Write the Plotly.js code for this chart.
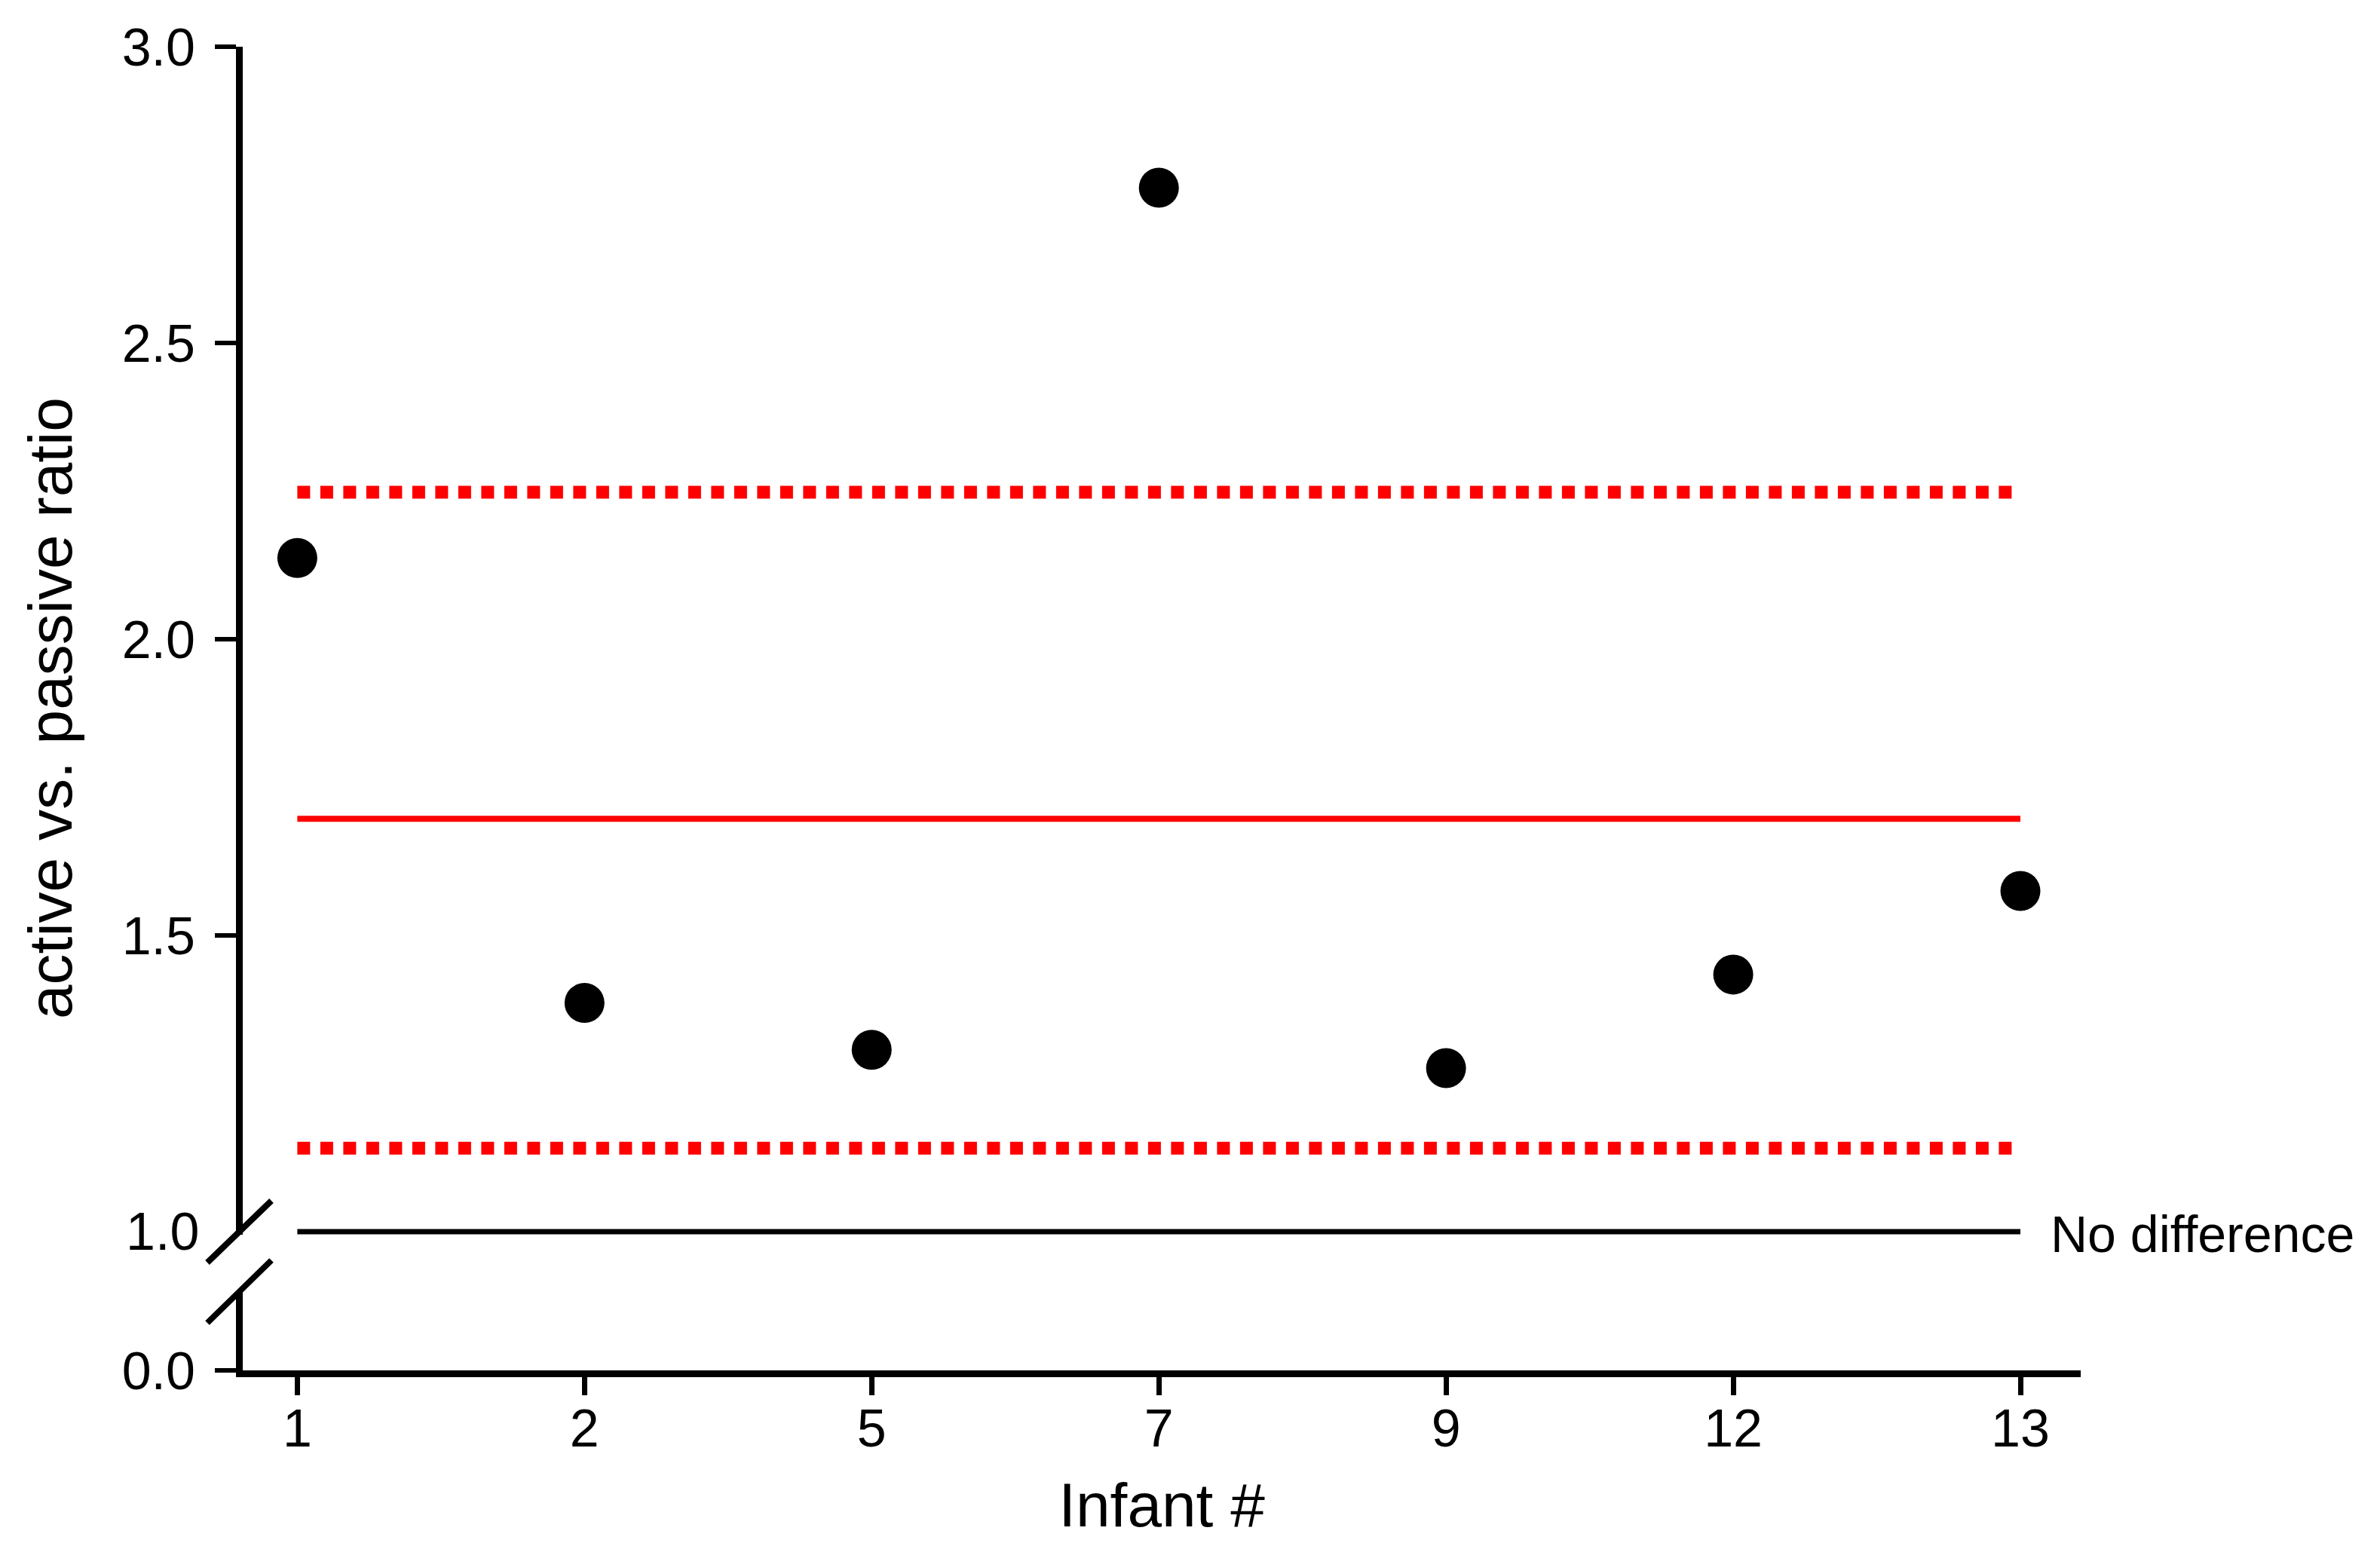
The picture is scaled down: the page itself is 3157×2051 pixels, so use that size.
<!DOCTYPE html>
<html>
<head>
<meta charset="utf-8">
<script src="https://cdn.plot.ly/plotly-3.0.1.min.js"></script>
<style>
  html, body { margin: 0; padding: 0; background: #ffffff; }
  #chart { width: 3157px; height: 2051px; }
</style>
</head>
<body>
<div id="chart"></div>
<script>
// ---- Data ----
const infants = ["1", "2", "5", "7", "9", "12", "13"];
const ratios = [2.137, 1.386, 1.307, 2.762, 1.276, 1.434, 1.575];
const meanRatio = 1.697;
const upperBound = 2.248;
const lowerBound = 1.141;
const noDifference = 1.0;
const upperTickVals = [1.5, 2.0, 2.5, 3.0];
const lowerTickVals = [0];
const lowerTickText = ["0.0"];

// ---- Layout constants ----
const W = 3157, H = 2051;
const M = { l: 322, r: 397, t: 62, b: 233 };
const plotW = W - M.l - M.r;
const plotH = H - M.t - M.b;
const px2paperX = p => (p - M.l) / plotW;
const px2paperY = p => (H - M.b - p) / plotH;

const FONT = "Liberation Sans, Arial, Helvetica, sans-serif";
const firstCat = infants[0];
const lastCat = infants[infants.length - 1];
const lastIndex = infants.length - 1;
const ends = [firstCat, lastCat];

const traces = [
  { x: infants, y: ratios, xaxis: "x", yaxis: "y", mode: "markers",
    marker: { color: "#000000", size: 53, symbol: "circle", line: { width: 0 } },
    cliponaxis: false },
  { x: ends, y: [upperBound, upperBound], xaxis: "x", yaxis: "y", mode: "lines",
    line: { color: "#ff0000", width: 17, dash: "17px,13.5px" }, hoverinfo: "skip" },
  { x: ends, y: [lowerBound, lowerBound], xaxis: "x", yaxis: "y", mode: "lines",
    line: { color: "#ff0000", width: 17, dash: "17px,13.5px" }, hoverinfo: "skip" },
  { x: ends, y: [meanRatio, meanRatio], xaxis: "x", yaxis: "y", mode: "lines",
    line: { color: "#ff0000", width: 8 }, hoverinfo: "skip" },
  { x: ends, y: [noDifference, noDifference], xaxis: "x", yaxis: "y", mode: "lines",
    line: { color: "#000000", width: 7 }, hoverinfo: "skip" },
  // empty trace that makes the lower (broken) axis segment exist
  { x: [], y: [], xaxis: "x", yaxis: "y2", mode: "markers", hoverinfo: "skip" }
];

// upper segment: 3.0 at 62px, 786 px per unit; starts a hair below 1.0
const upperRange = [0.995, 3.0];
const upperBottom = px2paperY(62 + (3.0 - upperRange[0]) * 786);
const lowerTop = px2paperY(1713);

const layout = {
  width: W, height: H,
  margin: M,
  paper_bgcolor: "#ffffff",
  plot_bgcolor: "#ffffff",
  showlegend: false,
  font: { family: FONT, color: "#000000", size: 70 },
  xaxis: {
    type: "category",
    categoryorder: "array",
    categoryarray: infants,
    range: [-0.19, 6.21],
    showgrid: false, zeroline: false,
    showline: true, linecolor: "#000000", linewidth: 9,
    ticks: "outside", ticklen: 24, tickwidth: 7, tickcolor: "#000000",
    tickfont: { family: FONT, size: 70, color: "#000000" },
    ticklabelstandoff: -16,
    anchor: "y2",
    title: { text: "Infant #", font: { family: FONT, size: 82, color: "#000000" }, standoff: 38 }
  },
  yaxis: {
    domain: [upperBottom, 1],
    range: upperRange,
    anchor: "x",
    showgrid: false, zeroline: false,
    showline: true, linecolor: "#000000", linewidth: 9,
    ticks: "outside", ticklen: 28, tickwidth: 6, tickcolor: "#000000",
    tickvals: upperTickVals, tickformat: ".1f",
    tickfont: { family: FONT, size: 70, color: "#000000" },
    ticklabelstandoff: 12
  },
  yaxis2: {
    domain: [0, lowerTop],
    range: [0, 0.13],
    anchor: "x",
    showgrid: false, zeroline: false,
    showline: true, linecolor: "#000000", linewidth: 9,
    ticks: "outside", ticklen: 28, tickwidth: 6, tickcolor: "#000000",
    tickvals: lowerTickVals, ticktext: lowerTickText,
    tickfont: { family: FONT, size: 70, color: "#000000" },
    ticklabelstandoff: 12
  },
  shapes: [
    { type: "line", xref: "paper", yref: "paper", layer: "above",
      x0: px2paperX(275), y0: px2paperY(1675), x1: px2paperX(360), y1: px2paperY(1593),
      line: { color: "#000000", width: 8 } },
    { type: "line", xref: "paper", yref: "paper", layer: "above",
      x0: px2paperX(275), y0: px2paperY(1755), x1: px2paperX(360), y1: px2paperY(1672),
      line: { color: "#000000", width: 8 } }
  ],
  annotations: [
    { text: "No difference", xref: "x", yref: "y", x: lastIndex, y: noDifference,
      xanchor: "left", yanchor: "middle", xshift: 38, yshift: -3, showarrow: false,
      font: { family: FONT, size: 68, color: "#000000" } },
    { text: "1.0", xref: "paper", yref: "y", x: 0, y: 1.0,
      xanchor: "right", yanchor: "middle", xshift: -56, yshift: 0, showarrow: false,
      font: { family: FONT, size: 70, color: "#000000" } },
    { text: "active vs. passive ratio", xref: "paper", yref: "paper",
      x: px2paperX(66), y: 0.5, xanchor: "center", yanchor: "middle",
      textangle: -90, showarrow: false,
      font: { family: FONT, size: 82, color: "#000000" } }
  ]
};

Plotly.newPlot("chart", traces, layout, { staticPlot: true, displayModeBar: false });
</script>
</body>
</html>
